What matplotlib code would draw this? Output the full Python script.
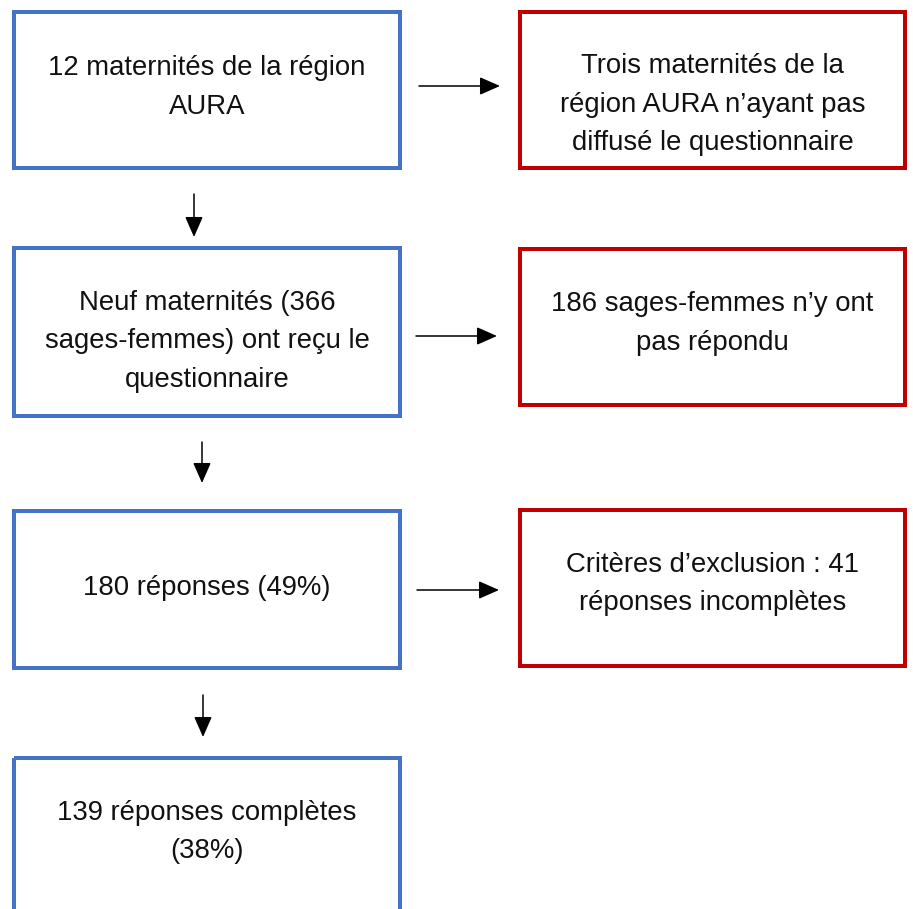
import matplotlib
matplotlib.use("Agg")
import matplotlib.pyplot as plt
from matplotlib.patches import Rectangle

# ---- content ----
main_texts = [
    ["12 maternités de la région", "AURA"],
    ["Neuf maternités (366", "sages-femmes) ont reçu le", "questionnaire"],
    ["180 réponses (49%)"],
    ["139 réponses complètes", "(38%)"],
]
excl_texts = [
    ["Trois maternités de la", "région AURA n’ayant pas", "diffusé le questionnaire"],
    ["186 sages-femmes n’y ont", "pas répondu"],
    ["Critères d’exclusion : 41", "réponses incomplètes"],
]

# ---- layout (pixels) ----
W, H = 913, 909
BLUE = "#4472C4"
RED = "#C00000"
main_x0, main_x1 = 14, 400
main_tops = [12, 248, 511, 758]
main_bots = [168, 416, 668, 960]
main_first_baseline = [63, 62, 84, 62]
excl_x0, excl_x1 = 520, 905
excl_tops = [12, 249, 510]
excl_bots = [168, 405, 666]
excl_first_baseline = [61, 62, 62]
h_arrows = [(419, 500, 86), (416, 497, 336), (417, 499, 590)]
v_arrows = [(194, 194, 237), (202, 442, 483), (203, 695, 737)]
LINE = 38.5
FS = 19.8

fig = plt.figure(figsize=(W / 100, H / 100), dpi=100)
ax = fig.add_axes([0, 0, 1, 1])
ax.set_xlim(0, W)
ax.set_ylim(H, 0)
ax.axis("off")

lw_box = 4 * 72 / 100

def draw_box(x0, x1, top, bot, color, lines, fb):
    ax.add_patch(Rectangle((x0, top), x1 - x0, bot - top, fill=False,
                           edgecolor=color, linewidth=lw_box, joinstyle="miter"))
    cx = (x0 + x1) / 2
    for i, s in enumerate(lines):
        ax.text(cx, top + fb + i * LINE, s, ha="center", va="baseline",
                fontsize=FS, family="Liberation Sans", color="#111111")

for i, lines in enumerate(main_texts):
    draw_box(main_x0, main_x1, main_tops[i], main_bots[i], BLUE, lines,
             main_first_baseline[i])
for i, lines in enumerate(excl_texts):
    draw_box(excl_x0, excl_x1, excl_tops[i], excl_bots[i], RED, lines,
             excl_first_baseline[i])

aprops = dict(arrowstyle="-|>,head_length=1.25,head_width=0.55", color="black",
              lw=1.1, shrinkA=0, shrinkB=0, mutation_scale=10)
for x0, x1, y in h_arrows:
    ax.annotate("", xy=(x1, y), xytext=(x0, y), arrowprops=aprops)
for x, y0, y1 in v_arrows:
    ax.annotate("", xy=(x, y1), xytext=(x, y0), arrowprops=aprops)

fig.savefig("out.png", dpi=100)
